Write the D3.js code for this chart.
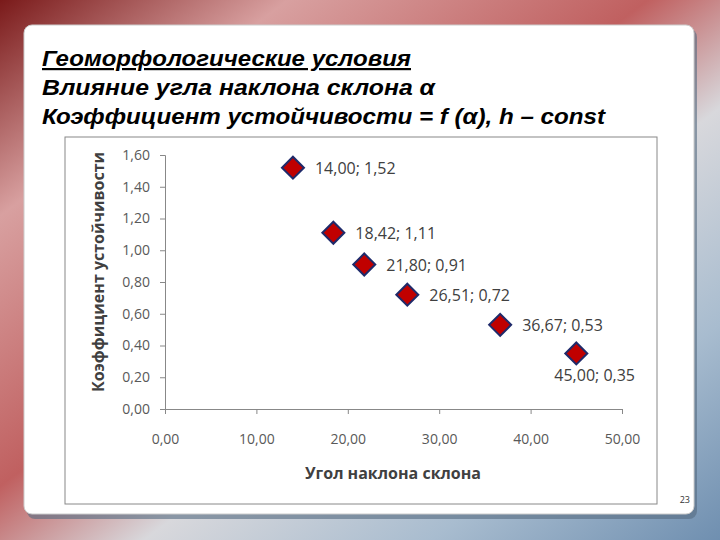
<!DOCTYPE html><html><head><meta charset="utf-8"><script src="https://cdn.jsdelivr.net/npm/d3@7"></script>
<style>body{margin:0}svg{display:block}</style></head><body><script>
const angles=[14.00,18.42,21.80,26.51,36.67,45.00];
const coefs=[1.52,1.11,0.91,0.72,0.53,0.35];
const xTicks=[0,10,20,30,40,50];
const yTicks=[0,0.2,0.4,0.6,0.8,1.0,1.2,1.4,1.6];
const titles=["Геоморфологические условия","Влияние угла наклона склона α","Коэффициент устойчивости = f (α), h – const"];
const titleLens=[369,393,563];
const fmt=v=>d3.format(".2f")(v).replace(".",",");
const svg=d3.select("body").append("svg").attr("width",720).attr("height",540);
const defs=svg.append("defs");
const g1=defs.append("linearGradient").attr("id","bg").attr("x1",0).attr("y1",0).attr("x2",1).attr("y2",1);
[[0,"#7a1a1a"],[0.2,"#d8a0a0"],[0.45,"#c06060"],[0.6,"#d8d8dc"],[0.8,"#a8bccf"],[1,"#6f8fb0"]].forEach(s=>g1.append("stop").attr("offset",s[0]).attr("stop-color",s[1]));
svg.append("rect").attr("width",720).attr("height",540).attr("fill","url(#bg)");
svg.append("rect").attr("x",27).attr("y",29).attr("width",670).attr("height",490).attr("rx",8).attr("fill","#556a80").attr("opacity",0.6);
svg.append("rect").attr("x",24).attr("y",25).attr("width",670).attr("height",489).attr("rx",8).attr("fill","#fff").attr("stroke","#ccc");
titles.forEach((t,i)=>svg.append("text").attr("x",42).attr("y",66+i*29).text(t)
 .attr("textLength",titleLens[i]).attr("lengthAdjust","spacingAndGlyphs")
 .attr("font-family","Liberation Sans, Arial").attr("font-size",22).attr("font-weight","bold").attr("font-style","italic")
 .attr("text-decoration",i==0?"underline":null).attr("fill","#000"));
svg.append("rect").attr("x",65).attr("y",137).attr("width",592).attr("height",367).attr("fill","#fff").attr("stroke","#888");
const x=d3.scaleLinear().domain([0,50]).range([165,622]);
const y=d3.scaleLinear().domain([0,1.6]).range([409,155]);
const ff="Open Sans, Liberation Sans, sans-serif";
const ya=svg.append("g").attr("transform","translate(165,0)").call(d3.axisLeft(y).tickValues(yTicks).tickFormat(fmt).tickSizeOuter(0).tickSize(5).tickPadding(10));
const xa=svg.append("g").attr("transform","translate(0,409)").call(d3.axisBottom(x).tickValues(xTicks).tickFormat(fmt).tickSizeOuter(0).tickSize(5).tickPadding(20));
[ya,xa].forEach(a=>{a.selectAll("path,line").attr("stroke","#888");a.selectAll("text").attr("font-family",ff).attr("font-size",14).attr("fill","#595959");});
svg.append("text").attr("x",393).attr("y",479).attr("text-anchor","middle").text("Угол наклона склона").attr("font-family",ff).attr("font-size",16).attr("font-weight","bold").attr("fill","#404040");
svg.append("text").attr("transform","translate(104,272) rotate(-90)").attr("text-anchor","middle").text("Коэффициент устойчивости").attr("font-family",ff).attr("font-size",16).attr("font-weight","bold").attr("fill","#404040");
const pts=angles.map((a,i)=>({a,c:coefs[i]}));
svg.selectAll(".m").data(pts).join("path")
 .attr("d","M0,-11L11,0L0,11L-11,0Z").attr("transform",d=>`translate(${x(d.a)},${y(d.c)})`)
 .attr("fill","#c00000").attr("stroke","#1f2a6a").attr("stroke-width",2);
svg.selectAll(".l").data(pts).join("text").attr("x",d=>x(d.a)+(d.a==45?-22:22)).attr("y",d=>y(d.c)+(d.a==45?28:6))
 .text(d=>fmt(d.a)+"; "+fmt(d.c)).attr("font-family",ff).attr("font-size",16).attr("fill","#404040");
svg.append("text").attr("x",690).attr("y",503).attr("text-anchor","end").text("23").attr("font-family",ff).attr("font-size",9).attr("fill","#333");
</script></body></html>
